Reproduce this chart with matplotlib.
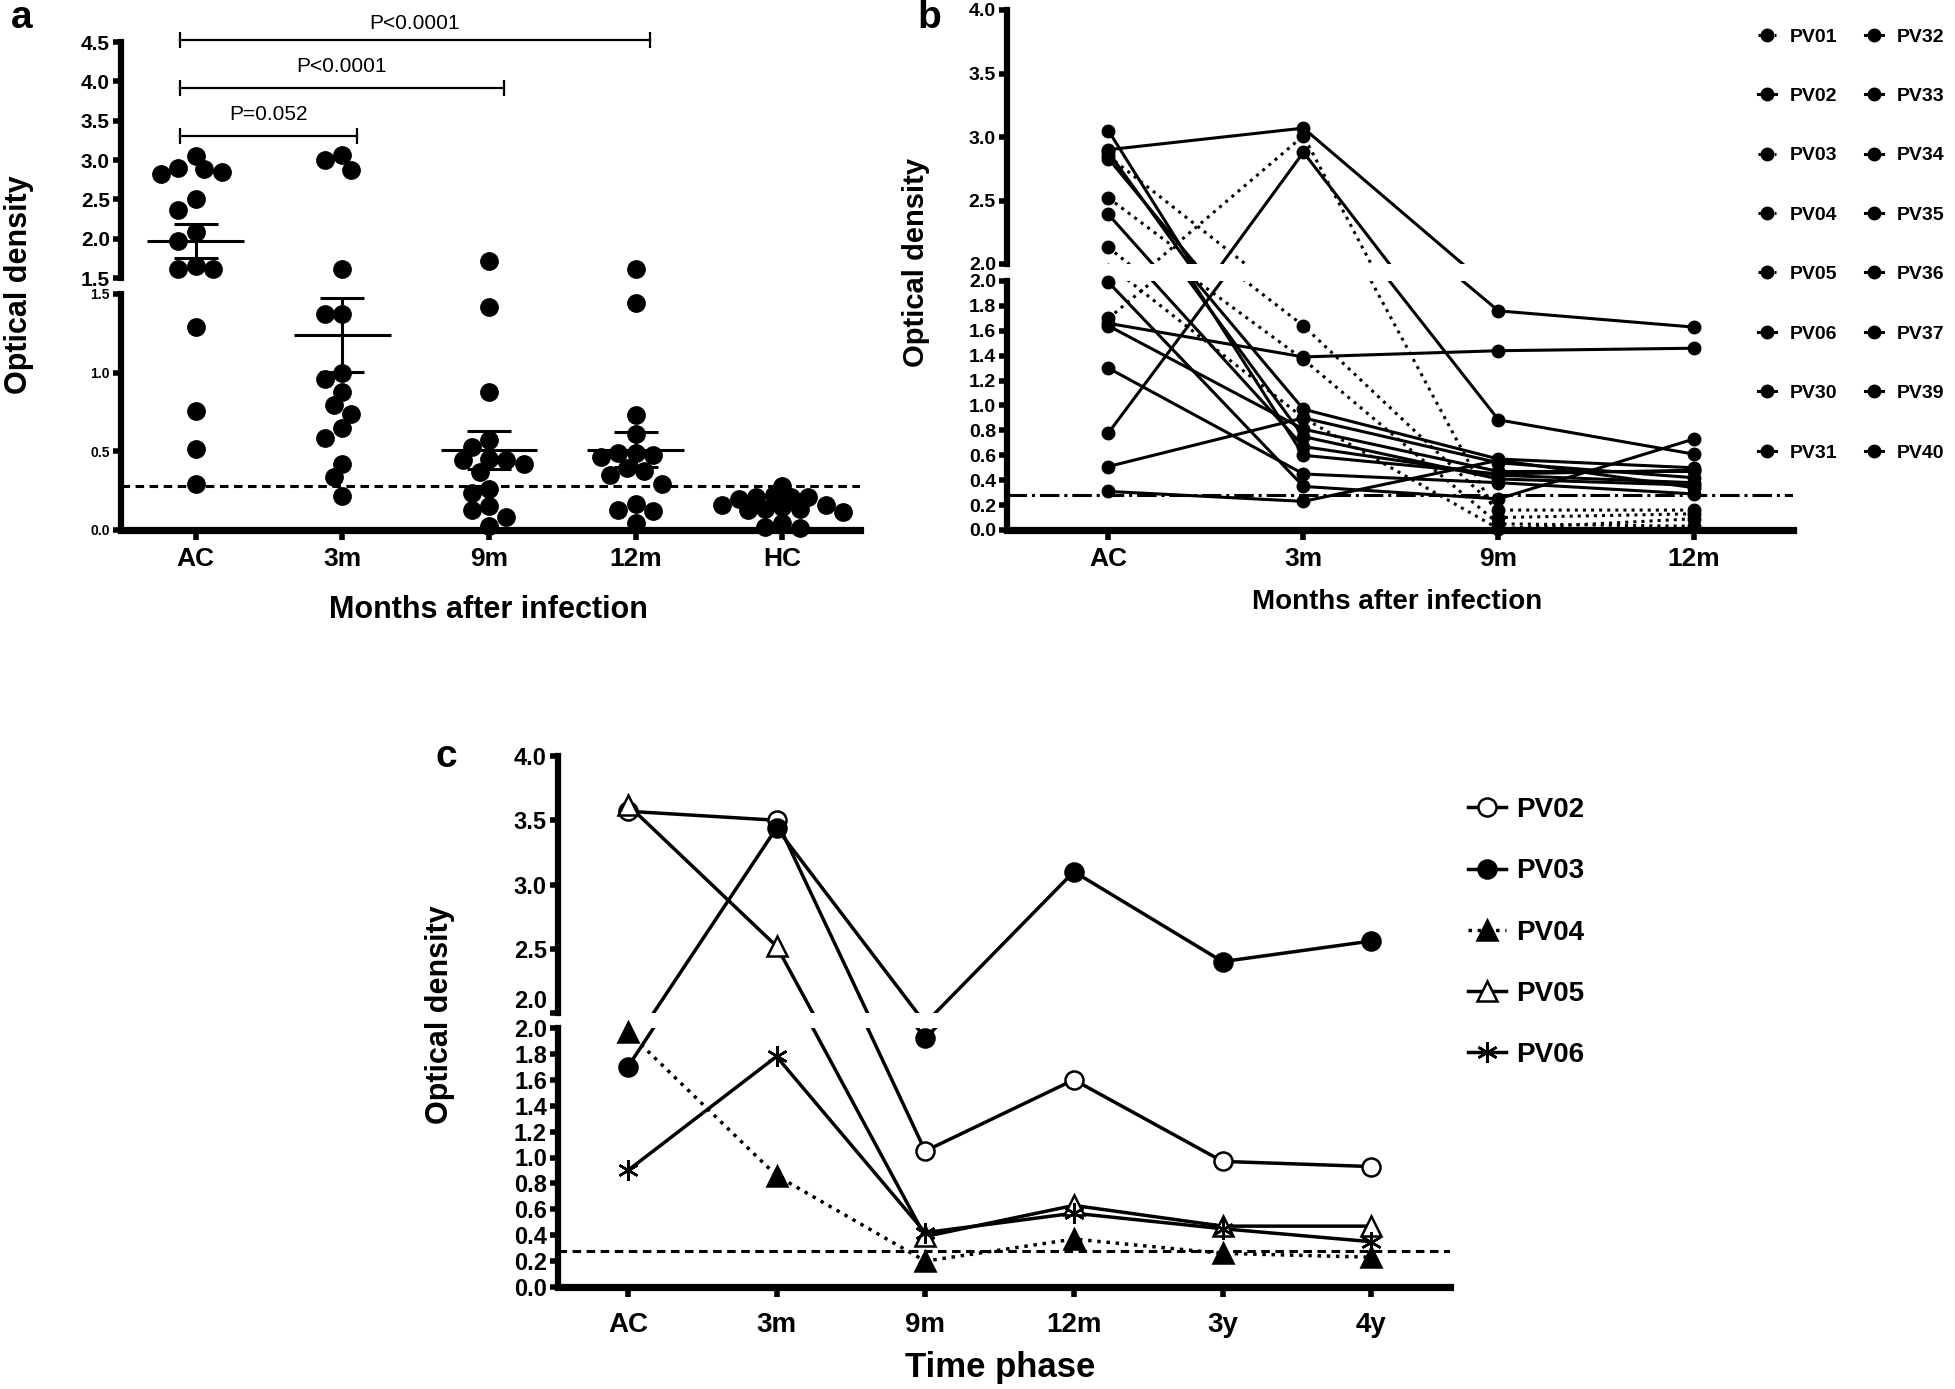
import numpy as np
import matplotlib
matplotlib.use("Agg")
import matplotlib.pyplot as plt
from matplotlib.lines import Line2D

plt.rcParams['font.family'] = ['Liberation Sans', 'DejaVu Sans']
plt.rcParams['font.weight'] = 'bold'

# ---------------- panel a: scatter of optical density per time point ----------------
groups_a = ['AC', '3m', '9m', '12m', 'HC']
od_ac = [3.05, 2.82, 2.90, 2.85, 2.88, 2.50, 2.36, 2.09, 1.97, 1.62, 1.65, 1.62, 1.29, 0.755, 0.515, 0.295]
od_3m = [2.87, 3.06, 3.00, 1.62, 1.37, 1.37, 0.996, 0.957, 0.88, 0.795, 0.74, 0.65, 0.587, 0.419, 0.334, 0.217]
od_9m = [1.72, 1.42, 0.879, 0.574, 0.419, 0.453, 0.445, 0.445, 0.53, 0.367, 0.259, 0.233, 0.155, 0.129, 0.083, 0.023]
od_12m = [1.62, 1.44, 0.729, 0.613, 0.466, 0.49, 0.479, 0.49, 0.393, 0.349, 0.372, 0.295, 0.166, 0.127, 0.122, 0.044]
od_hc = [0.282, 0.212, 0.199, 0.212, 0.225, 0.212, 0.135, 0.127, 0.117, 0.148, 0.135, 0.16, 0.013, 0.018, 0.044, 0.16]
mean_od = [1.97, 1.24, 0.51, 0.51]       # AC, 3m, 9m, 12m
sem_od = [0.22, 0.235, 0.12, 0.11]
p_labels = ['P=0.052', 'P<0.0001', 'P<0.0001']
p_targets = [1, 2, 3]                    # compared against AC
cutoff = 0.28

# ---------------- panel b: individual trajectories ----------------
times_b = ['AC', '3m', '9m', '12m']
subjects_b = ['PV01', 'PV02', 'PV03', 'PV04', 'PV05', 'PV06', 'PV30', 'PV31',
              'PV32', 'PV33', 'PV34', 'PV35', 'PV36', 'PV37', 'PV39', 'PV40']
dotted_b = ['PV01', 'PV03', 'PV04', 'PV05']
od_b = {
    'PV01': [1.70, 3.01, 0.10, 0.13],
    'PV02': [2.90, 3.07, 1.76, 1.63],
    'PV03': [2.85, 1.64, 0.16, 0.16],
    'PV04': [2.52, 1.37, 0.05, 0.03],
    'PV05': [2.13, 0.90, 0.01, 0.09],
    'PV06': [0.78, 2.88, 0.885, 0.61],
    'PV30': [1.66, 1.39, 1.44, 1.46],
    'PV31': [3.05, 0.60, 0.45, 0.48],
    'PV32': [2.88, 0.75, 0.41, 0.36],
    'PV33': [2.83, 0.97, 0.57, 0.50],
    'PV34': [2.39, 0.67, 0.44, 0.38],
    'PV35': [1.99, 0.35, 0.25, 0.73],
    'PV36': [1.64, 0.81, 0.47, 0.47],
    'PV37': [1.30, 0.45, 0.38, 0.29],
    'PV39': [0.51, 0.90, 0.54, 0.42],
    'PV40': [0.31, 0.23, 0.56, 0.34],
}

# ---------------- panel c: long-term follow-up ----------------
times_c = ['AC', '3m', '9m', '12m', '3y', '4y']
subjects_c = ['PV02', 'PV03', 'PV04', 'PV05', 'PV06']
od_c = {
    'PV02': [3.57, 3.50, 1.05, 1.60, 0.97, 0.93],
    'PV03': [1.70, 3.44, 1.92, 3.10, 2.40, 2.56],
    'PV04': [1.97, 0.86, 0.20, 0.37, 0.26, 0.23],
    'PV05': [3.62, 2.52, 0.39, 0.63, 0.47, 0.47],
    'PV06': [0.90, 1.78, 0.42, 0.57, 0.45, 0.35],
}
style_c = {
    'PV02': dict(marker='o', mfc='white', ls='-', ms=13),
    'PV03': dict(marker='o', mfc='black', ls='-', ms=13),
    'PV04': dict(marker='^', mfc='black', ls=':', ms=14),
    'PV05': dict(marker='^', mfc='white', ls='-', ms=14),
    'PV06': dict(marker=(6, 2, 0), mfc='black', ls='-', ms=15),
}

W, H = 1955, 1389
fig = plt.figure(figsize=(W / 100, H / 100), dpi=100)


def px_rect(left, right, top, bottom):
    return [left / W, 1 - bottom / H, (right - left) / W, (bottom - top) / H]


def broken_pair(left, right, top, brk_hi, brk_lo, bottom, xlim, ylim_hi, ylim_lo):
    ax_hi = fig.add_axes(px_rect(left, right, top, brk_hi))
    ax_lo = fig.add_axes(px_rect(left, right, brk_lo, bottom))
    for ax in (ax_hi, ax_lo):
        ax.set_xlim(*xlim)
        ax.patch.set_alpha(0)
        for s in ('top', 'right'):
            ax.spines[s].set_visible(False)
        ax.spines['left'].set_linewidth(4.5)
        ax.tick_params(axis='y', direction='out', length=6, width=4, pad=2)
    ax_hi.set_ylim(*ylim_hi)
    ax_lo.set_ylim(*ylim_lo)
    ax_hi.spines['bottom'].set_visible(False)
    ax_hi.tick_params(axis='x', bottom=False, labelbottom=False)
    ax_lo.spines['bottom'].set_linewidth(5.2)
    ax_lo.tick_params(axis='x', direction='out', length=7, width=4, pad=5)
    return ax_hi, ax_lo


def swarm_x(ax_hi, ax_lo, brk, x0, values, diam, tight=0.9):
    # simple beeswarm: step sideways by half a dot until no overlap
    placed, xs = [], []
    for v in values:
        ax = ax_hi if v >= brk else ax_lo
        px0, py = ax.transData.transform((x0, v))
        for k in [0, -1, 1, -2, 2, -3, 3, -4, 4, -5, 5, -6, 6, -7, 7]:
            px = px0 + k * diam * 0.5
            if all(np.hypot(px - qx, py - qy) >= diam * tight for qx, qy in placed):
                break
        placed.append((px, py))
        xs.append(ax.transData.inverted().transform((px, py))[0])
    return xs


# ====================== panel a ======================
a_hi, a_lo = broken_pair(121, 860, 42, 278, 294, 530, (-0.51, 4.53), (1.5, 4.5), (0, 1.5))
a_hi.set_yticks(np.arange(1.5, 4.51, 0.5))
a_hi.set_yticklabels([f'{t:.1f}' for t in np.arange(1.5, 4.51, 0.5)], fontsize=15, fontweight='bold')
a_lo.set_yticks([0, 0.5, 1.0, 1.5])
a_lo.set_yticklabels(['0.0', '0.5', '1.0', '1.5'], fontsize=10, fontweight='bold')
a_lo.set_xticks(range(len(groups_a)))
a_lo.set_xticklabels(groups_a, fontsize=19, fontweight='bold')

dot_ms = 12.5
diam_px = dot_ms * 100 / 72
for i, vals in enumerate([od_ac, od_3m, od_9m, od_12m, od_hc]):
    order = sorted(vals, reverse=True)
    xs = swarm_x(a_hi, a_lo, 1.5, i, order, diam_px, tight=0.9 if i < 4 else 0.7)
    for x, v in zip(xs, order):
        ax = a_hi if v >= 1.5 else a_lo
        ax.plot(x, v, 'o', color='black', ms=dot_ms, clip_on=False, zorder=3)

for i, (m, s) in enumerate(zip(mean_od, sem_od)):
    ax = a_hi if m >= 1.5 else a_lo
    ax.hlines(m, i - 0.33, i + 0.33, color='black', lw=2.2, zorder=4)
    ax.vlines(i, m - s, m + s, color='black', lw=2.2, zorder=4)
    ax.hlines([m - s, m + s], i - 0.15, i + 0.15, color='black', lw=2.2, zorder=4)

a_lo.axhline(cutoff, color='black', ls=(0, (2.8, 1.8)), lw=2.2, zorder=2)

bracket_y = [3.30, 3.92, 4.52]
text_y = [3.58, 4.19, 4.73]
for lab, tgt, by, ty in zip(p_labels, p_targets, bracket_y, text_y):
    x1, x2 = -0.11, tgt + 0.1
    a_hi.plot([x1, x2], [by, by], color='black', lw=1.6, clip_on=False)
    a_hi.plot([x1, x2], [by, by], ls='none', marker='|', ms=11, mew=1.6, color='black', clip_on=False)
    a_hi.text((x1 + x2) / 2, ty, lab, ha='center', va='center', fontsize=15, fontweight='normal', clip_on=False)

fig.text(19 / W, 1 - 285 / H, 'Optical density', rotation=90, ha='center', va='center', fontsize=22, fontweight='bold')
fig.text(488 / W, 1 - 610 / H, 'Months after infection', ha='center', va='center', fontsize=22, fontweight='bold')
fig.text(22 / W, 1 - 18 / H, 'a', ha='center', va='center', fontsize=28, fontweight='bold')

# ====================== panel b ======================
b_hi, b_lo = broken_pair(1007, 1793, 10, 264, 281, 530, (-0.52, 3.51), (2.0, 4.0), (0, 2.0))
b_hi.set_yticks(np.arange(2.0, 4.01, 0.5))
b_hi.set_yticklabels([f'{t:.1f}' for t in np.arange(2.0, 4.01, 0.5)], fontsize=14, fontweight='bold')
b_lo.set_yticks(np.arange(0, 2.01, 0.2))
b_lo.set_yticklabels([f'{t:.1f}' for t in np.arange(0, 2.01, 0.2)], fontsize=14, fontweight='bold')
b_lo.set_xticks(range(len(times_b)))
b_lo.set_xticklabels(times_b, fontsize=19, fontweight='bold')

xb = np.arange(len(times_b))
handles_b = []
for name in subjects_b:
    vals = np.array(od_b[name])
    ls = ':' if name in dotted_b else '-'
    for ax in (b_hi, b_lo):
        ax.plot(xb, vals, color='black', ls=ls, lw=2.2, zorder=2)
    hi = vals >= 2.0
    b_hi.plot(xb[hi], vals[hi], 'o', color='black', ms=9, clip_on=False, zorder=3)
    b_lo.plot(xb[~hi], vals[~hi], 'o', color='black', ms=9, clip_on=False, zorder=3)
    handles_b.append(Line2D([], [], color='black', ls=ls, lw=2.2, marker='o', ms=9))

b_lo.axhline(cutoff, color='black', ls='-.', lw=2.2, zorder=2)

fig.legend(handles_b, subjects_b, loc='upper left', bbox_to_anchor=(1758 / W, 1 - 28 / H),
           ncol=2, frameon=False, handlelength=0.95, handletextpad=0.7,
           columnspacing=1.4, labelspacing=2.15, borderpad=0, borderaxespad=0,
           prop={'weight': 'bold', 'size': 14})

fig.text(916 / W, 1 - 262 / H, 'Optical density', rotation=90, ha='center', va='center', fontsize=21, fontweight='bold')
fig.text(1397 / W, 1 - 602 / H, 'Months after infection', ha='center', va='center', fontsize=20, fontweight='bold')
fig.text(929 / W, 1 - 18 / H, 'b', ha='center', va='center', fontsize=28, fontweight='bold')

# ====================== panel c ======================
c_hi, c_lo = broken_pair(558, 1450, 756, 1013, 1028, 1287, (-0.47, 5.53), (2.0, 4.0), (0, 2.0))
c_hi.set_yticks(np.arange(2.0, 4.01, 0.5))
c_hi.set_yticklabels([f'{t:.1f}' for t in np.arange(2.0, 4.01, 0.5)], fontsize=17, fontweight='bold')
c_lo.set_yticks(np.arange(0, 2.01, 0.2))
c_lo.set_yticklabels([f'{t:.1f}' for t in np.arange(0, 2.01, 0.2)], fontsize=17, fontweight='bold')
c_hi.get_yticklabels()[0].set_va('bottom')   # keep the two "2.0" labels at the break apart
c_lo.set_xticks(range(len(times_c)))
c_lo.set_xticklabels(times_c, fontsize=20, fontweight='bold')
c_lo.tick_params(axis='x', pad=11)

xc = np.arange(len(times_c))
handles_c = []
for name in subjects_c:
    vals = np.array(od_c[name])
    st = style_c[name]
    for ax in (c_hi, c_lo):
        ax.plot(xc, vals, color='black', ls=st['ls'], lw=2.5, zorder=2)
    hi = vals >= 2.0
    mk = dict(ls='none', marker=st['marker'], ms=st['ms'], mfc=st['mfc'], mec='black', mew=1.8,
              clip_on=False, zorder=3)
    c_hi.plot(xc[hi], vals[hi], **mk)
    c_lo.plot(xc[~hi], vals[~hi], **mk)
    handles_c.append(Line2D([], [], color='black', ls=st['ls'], lw=2.5, marker=st['marker'],
                            ms=st['ms'], mfc=st['mfc'], mec='black', mew=1.8))

c_lo.axhline(cutoff, color='black', ls=(0, (2.8, 1.8)), lw=2.2, zorder=1)

fig.legend(handles_c, subjects_c, loc='upper left', bbox_to_anchor=(1468 / W, 1 - 797 / H),
           frameon=False, handlelength=1.35, handletextpad=0.4, labelspacing=1.27,
           borderpad=0, borderaxespad=0, prop={'weight': 'bold', 'size': 20})

fig.text(440 / W, 1 - 1015 / H, 'Optical density', rotation=90, ha='center', va='center', fontsize=22, fontweight='bold')
fig.text(1000 / W, 1 - 1368 / H, 'Time phase', ha='center', va='center', fontsize=25, fontweight='bold')
fig.text(446 / W, 1 - 757 / H, 'c', ha='center', va='center', fontsize=28, fontweight='bold')

fig.savefig('out.png', dpi=100)
